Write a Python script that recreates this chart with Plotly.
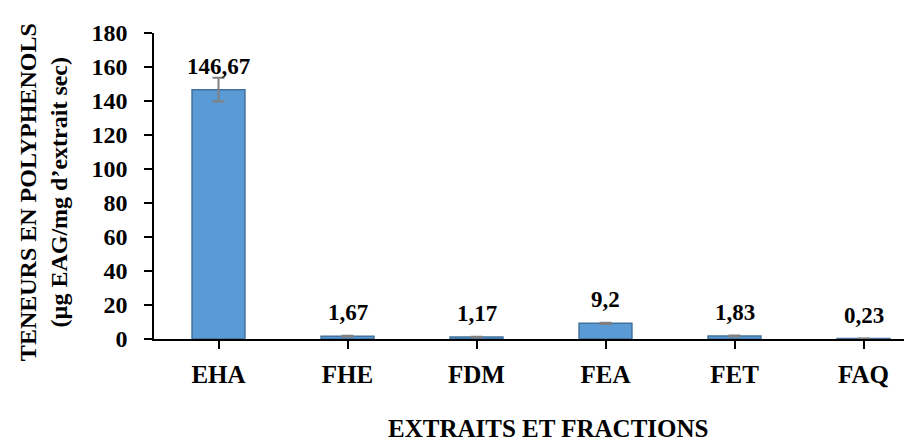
import plotly.graph_objects as go

categories = ["EHA", "FHE", "FDM", "FEA", "FET", "FAQ"]
values = [146.67, 1.67, 1.17, 9.2, 1.83, 0.23]
errors = [7.0, 0.3, 0.2, 0.4, 0.3, 0.05]
labels = ["146,67", "1,67", "1,17", "9,2", "1,83", "0,23"]
y_ticks = [0, 20, 40, 60, 80, 100, 120, 140, 160, 180]

FONT = "Liberation Serif, Times New Roman, serif"

fig = go.Figure()
fig.add_trace(go.Bar(
    x=list(range(len(categories))),
    y=values,
    width=0.41,
    marker=dict(color="#5B9BD5", line=dict(color="#41719C", width=1.5)),
    error_y=dict(type="data", array=errors, visible=True,
                 color="#808080", thickness=2, width=6),
    showlegend=False,
))

for i, (v, t) in enumerate(zip(values, labels)):
    fig.add_annotation(x=i, y=v, text=f"<b>{t}</b>", showarrow=False,
                       xref="x", yref="y", yanchor="bottom", yshift=9,
                       font=dict(family=FONT, size=23, color="black"))

fig.add_annotation(
    text="<b>TENEURS EN POLYPHENOLS</b><br><b>(µg EAG/mg d’extrait sec)</b>",
    xref="paper", yref="paper", x=-0.1449, y=0.48,
    xanchor="center", yanchor="middle", textangle=-90, showarrow=False,
    font=dict(family=FONT, size=24, color="black"))

fig.add_annotation(
    text="<b>EXTRAITS ET FRACTIONS</b>",
    xref="paper", yref="paper", x=0.514, y=-0.294,
    xanchor="center", yanchor="middle", showarrow=False,
    font=dict(family=FONT, size=25, color="black"))

fig.update_layout(
    width=912, height=441,
    margin=dict(l=146, r=0, t=25, b=110),
    plot_bgcolor="white", paper_bgcolor="white",
    font=dict(family=FONT, color="black"),
    bargap=0.59,
)
fig.update_xaxes(
    range=[-0.5, 5.438],
    tickmode="array",
    tickvals=list(range(len(categories))),
    ticktext=[f"<b>{c}</b>" for c in categories],
    tickson="boundaries",
    ticks="outside", ticklen=8, tickwidth=1.5, tickcolor="black",
    showline=True, linecolor="black", linewidth=1.5,
    showgrid=False, zeroline=False,
    tickfont=dict(family=FONT, size=25, color="black"),
    ticklabelstandoff=4,
)
fig.update_yaxes(
    range=[0, 180],
    tickmode="array", tickvals=y_ticks,
    ticktext=[f"<b>{v}</b>" for v in y_ticks],
    ticks="outside", ticklen=8, tickwidth=1.5, tickcolor="black",
    showline=True, linecolor="black", linewidth=1.5,
    showgrid=False, zeroline=False,
    tickfont=dict(family=FONT, size=24, color="black"),
    ticklabelstandoff=12,
)

fig.write_html("out.html")
